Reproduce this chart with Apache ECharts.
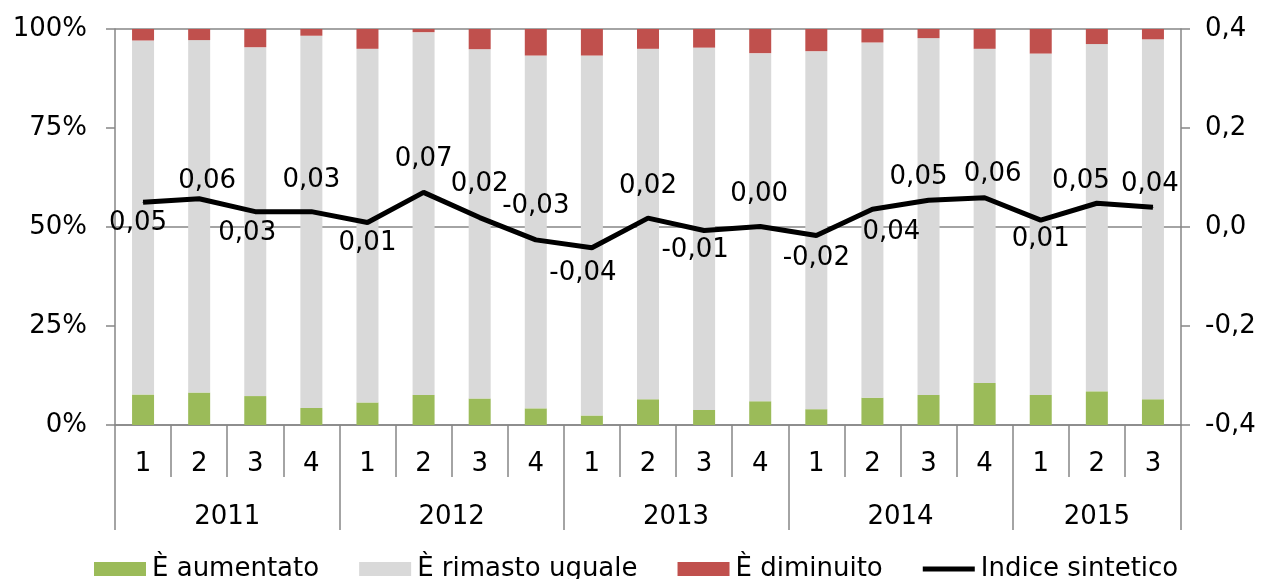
<!DOCTYPE html>
<html>
<head>
<meta charset="utf-8">
<script src="https://cdn.jsdelivr.net/npm/echarts@6/dist/echarts.min.js"></script>
<style>
html,body{margin:0;padding:0;background:#fff;}
#c{width:1262px;height:579px;}
</style>
</head>
<body>
<div id="c"></div>
<script>
// ---- data ----
var quarters = ['1','2','3','4','1','2','3','4','1','2','3','4','1','2','3','4','1','2','3'];
var yearOf   = ['2011','2011','2011','2011','2012','2012','2012','2012','2013','2013','2013','2013','2014','2014','2014','2014','2015','2015','2015'];
var aumentato = [7.7,8.2,7.3,4.3,5.7,7.6,6.7,4.2,2.4,6.5,3.8,6.0,4.0,6.9,7.6,10.6,7.6,8.5,6.5];
var uguale    = [89.4,89.0,88.1,94.0,89.3,91.6,88.2,89.1,90.9,88.5,91.5,87.9,90.4,89.7,90.1,84.4,86.2,87.7,90.9];
var diminuito = [2.9,2.8,4.6,1.7,5.0,0.8,5.1,6.7,6.7,5.0,4.7,6.1,5.6,3.4,2.3,5.0,6.2,3.8,2.6];
var indice    = [0.05,0.057,0.031,0.031,0.009,0.07,0.019,-0.026,-0.042,0.018,-0.007,0.001,-0.017,0.036,0.054,0.059,0.014,0.048,0.04];

// data-label placement relative to each point, in px (style only)
var labelOffset = [
  [-5,21],[8,-18],[-8,22],[0,-31],[0,21],[0,-33],[0,-33],[0,-34],[-9,25],[0,-32],
  [-9,20],[-1,-32],[0,23],[19,23],[-10,-23],[8,-24],[0,19],[-16,-22],[-3,-23]
];

// year boundaries / centers derived from yearOf
var bounds = [0], centers = [], centerYear = {};
for (var i = 1; i <= yearOf.length; i++) {
  if (i === yearOf.length || yearOf[i] !== yearOf[i-1]) {
    var start = bounds[bounds.length-1];
    var c = (start + i) / 2;
    centers.push(c);
    centerYear[c] = yearOf[i-1];
    bounds.push(i);
  }
}

var FONT = 'DejaVu Sans';
var GRAY = '#868686';
var txt = {fontFamily: FONT, fontSize: 26, color: '#000'};

var chart = echarts.init(document.getElementById('c'), null, {renderer: 'canvas'});
chart.setOption({
  animation: false,
  textStyle: {fontFamily: FONT},
  grid: {left: 115, right: 81, top: 29, bottom: 154, containLabel: false},
  legend: {
    bottom: -3, left: 94, padding: 0,
    itemWidth: 52, itemHeight: 14, itemGap: 40,
    selectedMode: false,
    textStyle: {fontFamily: FONT, fontSize: 26, color: '#000', padding: [0,0,0,1]},
    data: [
      {name: 'È aumentato', icon: 'rect'},
      {name: 'È rimasto uguale', icon: 'rect'},
      {name: 'È diminuito', icon: 'rect'},
      {name: 'Indice sintetico', icon: 'path://M0 0H52V5H0Z'}
    ]
  },
  xAxis: [
    {
      type: 'category', data: quarters, boundaryGap: true,
      axisLine: {onZero: false, lineStyle: {color: GRAY, width: 1.5}},
      axisTick: {show: true, interval: 0, length: 52, lineStyle: {color: GRAY, width: 1.5}},
      axisLabel: Object.assign({interval: 0, margin: 26}, txt),
      splitLine: {show: false}
    },
    {
      type: 'value', min: 0, max: quarters.length, position: 'bottom',
      axisLine: {show: false, onZero: false},
      axisTick: {show: true, customValues: bounds, length: 105, lineStyle: {color: GRAY, width: 1.5}},
      axisLabel: Object.assign({customValues: centers, margin: 79, showMinLabel: true, showMaxLabel: true, formatter: function (v) { return centerYear[v] || ''; }}, txt),
      splitLine: {show: false}
    }
  ],
  yAxis: [
    {
      type: 'value', min: 0, max: 100, interval: 25, position: 'left',
      axisLine: {show: true, lineStyle: {color: GRAY, width: 1.5}},
      axisTick: {show: true, length: 9, lineStyle: {color: GRAY, width: 1.5}},
      axisLabel: Object.assign({margin: 28, formatter: '{value}%'}, txt),
      splitLine: {show: false}
    },
    {
      type: 'value', min: -0.4, max: 0.4, interval: 0.2, position: 'right',
      axisLine: {show: true, lineStyle: {color: GRAY, width: 1.5}},
      axisTick: {show: true, length: 9, lineStyle: {color: GRAY, width: 1.5}},
      axisLabel: Object.assign({margin: 24, formatter: function (v) { return v.toFixed(1).replace('.', ','); }}, txt),
      splitLine: {show: false}
    },
    {
      type: 'value', min: 0, max: 100, interval: 50, show: true, position: 'left',
      axisLine: {show: false}, axisTick: {show: false}, axisLabel: {show: false},
      splitLine: {show: true, lineStyle: {color: GRAY, width: 1.5}}
    }
  ],
  series: [
    {name: 'È aumentato', type: 'bar', stack: 's', data: aumentato, barWidth: 22,
     itemStyle: {color: '#9BBB59'}},
    {name: 'È rimasto uguale', type: 'bar', stack: 's', data: uguale, barWidth: 22,
     itemStyle: {color: '#D9D9D9'}},
    {name: 'È diminuito', type: 'bar', stack: 's', data: diminuito, barWidth: 22,
     itemStyle: {color: '#C0504D'}},
    {name: 'Indice sintetico', type: 'line', yAxisIndex: 1, symbol: 'circle', symbolSize: 1, showSymbol: true,
     lineStyle: {color: '#000', width: 5}, itemStyle: {color: '#000'},
     z: 5,
     data: indice.map(function (v, i) {
       return {value: v, label: {show: true, position: 'inside', offset: labelOffset[i]}};
     }),
     label: Object.assign({show: true, formatter: function (p) { return p.value.toFixed(2).replace('.', ','); }}, txt)
    }
  ]
});
</script>
</body>
</html>
